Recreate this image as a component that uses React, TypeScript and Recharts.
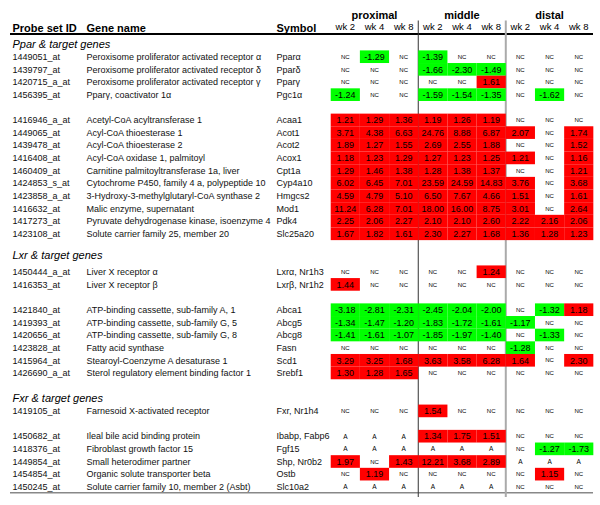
import { ScatterChart, Scatter, XAxis, YAxis, ReferenceLine } from "recharts";

const GROUPS = ["proximal", "middle", "distal"];
const WEEKS = ["wk 2", "wk 4", "wk 8"];
const HEADERS = ["Probe set ID", "Gene name", "Symbol"];

const SECTIONS = ["Ppar & target genes", "Lxr & target genes", "Fxr & target genes"];
const SECTION_SLOTS = [-1, 15.7, 27];

const PROBES = [
  "1449051_at", "1439797_at", "1420715_a_at", "1456395_at",
  "1416946_a_at", "1449065_at", "1439478_at", "1416408_at", "1460409_at",
  "1424853_s_at", "1423858_a_at", "1416632_at", "1417273_at", "1423108_at",
  "1450444_a_at", "1416353_at",
  "1421840_at", "1419393_at", "1420656_at", "1423828_at", "1415964_at", "1426690_a_at",
  "1419105_at",
  "1450682_at", "1418376_at", "1449854_at", "1454854_at", "1450245_at",
];

const GENES = [
  "Peroxisome proliferator activated receptor α",
  "Peroxisome proliferator activated receptor δ",
  "Peroxisome proliferator activated receptor γ",
  "Pparγ, coactivator 1α",
  "Acetyl-CoA acyltransferase 1",
  "Acyl-CoA thioesterase 1",
  "Acyl-CoA thioesterase 2",
  "Acyl-CoA oxidase 1, palmitoyl",
  "Carnitine palmitoyltransferase 1a, liver",
  "Cytochrome P450, family 4 a, polypeptide 10",
  "3-Hydroxy-3-methylglutaryl-CoA synthase 2",
  "Malic enzyme, supernatant",
  "Pyruvate dehydrogenase kinase, isoenzyme 4",
  "Solute carrier family 25, member 20",
  "Liver X receptor α",
  "Liver X receptor β",
  "ATP-binding cassette, sub-family A, 1",
  "ATP-binding cassette, sub-family G, 5",
  "ATP-binding cassette, sub-family G, 8",
  "Fatty acid synthase",
  "Stearoyl-Coenzyme A desaturase 1",
  "Sterol regulatory element binding factor 1",
  "Farnesoid X-activated receptor",
  "Ileal bile acid binding protein",
  "Fibroblast growth factor 15",
  "Small heterodimer partner",
  "Organic solute transporter beta",
  "Solute carrier family 10, member 2 (Asbt)",
];

const SYMBOLS = [
  "Pparα", "Pparδ", "Pparγ", "Pgc1α",
  "Acaa1", "Acot1", "Acot2", "Acox1", "Cpt1a", "Cyp4a10", "Hmgcs2", "Mod1", "Pdk4", "Slc25a20",
  "Lxrα, Nr1h3", "Lxrβ, Nr1h2",
  "Abca1", "Abcg5", "Abcg8", "Fasn", "Scd1", "Srebf1",
  "Fxr, Nr1h4",
  "Ibabp, Fabp6", "Fgf15", "Shp, Nr0b2", "Ostb", "Slc10a2",
];

// row index in the table grid (blank rows skipped)
const ROW_SLOTS = [0, 1, 2, 3, 5, 6, 7, 8, 9, 10, 11, 12, 13, 14, 17, 18, 20, 21, 22, 23, 24, 25, 28, 30, 31, 32, 33, 34];

// fold changes: proximal wk2/4/8, middle wk2/4/8, distal wk2/4/8
const VALUES = [
  ["NC", "-1.29", "NC", "-1.39", "NC", "NC", "NC", "NC", "NC"],
  ["NC", "NC", "NC", "-1.66", "-2.30", "-1.49", "NC", "NC", "NC"],
  ["NC", "NC", "NC", "NC", "NC", "1.61", "NC", "NC", "NC"],
  ["-1.24", "NC", "NC", "-1.59", "-1.54", "-1.35", "NC", "-1.62", "NC"],
  ["1.21", "1.29", "1.36", "1.19", "1.26", "1.19", "NC", "NC", "NC"],
  ["3.71", "4.38", "6.63", "24.76", "8.88", "6.87", "2.07", "NC", "1.74"],
  ["1.89", "1.27", "1.55", "2.69", "2.55", "1.88", "NC", "NC", "1.52"],
  ["1.18", "1.23", "1.29", "1.27", "1.23", "1.25", "1.21", "NC", "1.16"],
  ["1.29", "1.46", "1.38", "1.28", "1.38", "1.37", "NC", "NC", "1.21"],
  ["6.02", "6.45", "7.01", "23.59", "24.59", "14.83", "3.76", "NC", "3.68"],
  ["4.59", "4.79", "5.10", "6.50", "7.67", "4.66", "1.51", "NC", "1.61"],
  ["11.24", "6.28", "7.01", "18.00", "16.00", "8.75", "3.01", "NC", "2.64"],
  ["2.25", "2.06", "2.27", "2.10", "2.10", "2.60", "2.22", "2.16", "2.06"],
  ["1.67", "1.82", "1.61", "2.30", "2.27", "1.68", "1.36", "1.28", "1.23"],
  ["NC", "NC", "NC", "NC", "NC", "1.24", "NC", "NC", "NC"],
  ["1.44", "NC", "NC", "NC", "NC", "NC", "NC", "NC", "NC"],
  ["-3.18", "-2.81", "-2.31", "-2.45", "-2.04", "-2.00", "NC", "-1.32", "1.18"],
  ["-1.34", "-1.47", "-1.20", "-1.83", "-1.72", "-1.61", "-1.17", "NC", "NC"],
  ["-1.41", "-1.61", "-1.07", "-1.85", "-1.97", "-1.40", "NC", "-1.33", "NC"],
  ["NC", "NC", "NC", "NC", "NC", "NC", "-1.28", "NC", "NC"],
  ["3.29", "3.25", "1.68", "3.63", "3.58", "6.28", "1.64", "NC", "2.30"],
  ["1.30", "1.28", "1.65", "NC", "NC", "NC", "NC", "NC", "NC"],
  ["NC", "NC", "NC", "1.54", "NC", "NC", "NC", "NC", "NC"],
  ["A", "A", "A", "1.34", "1.75", "1.51", "NC", "NC", "NC"],
  ["A", "A", "A", "A", "A", "A", "NC", "-1.27", "-1.73"],
  ["1.97", "NC", "1.43", "12.21", "3.68", "2.89", "A", "A", "A"],
  ["NC", "1.19", "NC", "NC", "NC", "NC", "NC", "1.15", "NC"],
  ["A", "A", "A", "A", "A", "A", "NC", "NC", "NC"],
];

// ---- layout ----
const W = 600;
const H = 505;
const COL_W = 29.18;
const ROW_H = 12.65;
const X0 = 345.3; // pixel centre of first value column
const Y0 = 56.7; // pixel centre of first row
const X_DOMAIN = [-X0 / COL_W, (W - X0) / COL_W];
const Y_DOMAIN = [-Y0 / ROW_H, (H - Y0) / ROW_H];
const FONT = "'Liberation Sans', Arial, Helvetica, sans-serif";
const RED = "#ff0000";
const GREEN = "#00ff00";

const cellData = VALUES.flatMap((row, r) =>
  row.map((v, c) => ({ x: c, y: ROW_SLOTS[r], v }))
);
const labelData = PROBES.map((p, i) => ({
  x: -0.5,
  y: ROW_SLOTS[i],
  probe: p,
  gene: GENES[i],
  symbol: SYMBOLS[i],
}));
const sectionData = SECTIONS.map((s, i) => ({ x: -0.5, y: SECTION_SLOTS[i], name: s }));
const groupData = GROUPS.map((g, i) => ({ x: i * 3 + 1, y: -3.3, name: g }));
const weekData = GROUPS.flatMap((_, gi) =>
  WEEKS.map((w, wi) => ({ x: gi * 3 + wi, y: -2.35, name: w }))
);
const headerData = [{ x: -0.5, y: -2.26 }];

const Cell = (props: any) => {
  const { cx, cy, payload } = props;
  const v: string = payload.v;
  const isNum = v !== "NC" && v !== "A";
  const fill = isNum ? (v.startsWith("-") ? GREEN : RED) : "none";
  return (
    <g>
      {isNum && (
        <rect x={cx - COL_W / 2} y={cy - ROW_H / 2} width={COL_W} height={ROW_H} fill={fill} />
      )}
      <text
        x={cx}
        y={cy}
        dy="0.36em"
        textAnchor="middle"
        fontFamily={FONT}
        fontSize={isNum ? 9 : v === "A" ? 6.5 : 6}
        fill="#000"
      >
        {v}
      </text>
    </g>
  );
};

const RowLabel = (props: any) => {
  const { cy, payload } = props;
  const common = { fontFamily: FONT, fontSize: 9, fill: "#111", dy: "0.36em" };
  return (
    <g>
      <text x={12.5} y={cy} {...common}>{payload.probe}</text>
      <text x={86.5} y={cy} {...common}>{payload.gene}</text>
      <text x={276.5} y={cy} {...common}>{payload.symbol}</text>
    </g>
  );
};

const SectionLabel = (props: any) => {
  const { cy, payload } = props;
  return (
    <text x={12.5} y={cy} dy="0.36em" fontFamily={FONT} fontSize={11} fontStyle="italic" fill="#000">
      {payload.name}
    </text>
  );
};

const GroupLabel = (props: any) => {
  const { cx, cy, payload } = props;
  return (
    <text x={cx} y={cy} dy="0.36em" textAnchor="middle" fontFamily={FONT} fontSize={11} fontWeight="bold" fill="#000">
      {payload.name}
    </text>
  );
};

const WeekLabel = (props: any) => {
  const { cx, cy, payload } = props;
  return (
    <text x={cx} y={cy} dy="0.36em" textAnchor="middle" fontFamily={FONT} fontSize={9.5} fill="#000">
      {payload.name}
    </text>
  );
};

const ColumnHeaders = (props: any) => {
  const { cy } = props;
  const xs = [12.5, 86.5, 276.5];
  return (
    <g>
      {HEADERS.map((h, i) => (
        <text key={h} x={xs[i]} y={cy} dy="0.36em" fontFamily={FONT} fontSize={11} fontWeight="bold" fill="#000">
          {h}
        </text>
      ))}
    </g>
  );
};

const xAt = (px: number) => (px - X0) / COL_W;
const yAt = (py: number) => (py - Y0) / ROW_H;

export default function App() {
  return (
    <div style={{ position: "absolute", left: 0, top: 0, width: W, height: H, background: "#fff" }}>
      <ScatterChart width={W} height={H} margin={{ top: 0, right: 0, bottom: 0, left: 0 }}>
        <XAxis type="number" dataKey="x" domain={X_DOMAIN} hide allowDataOverflow />
        <YAxis type="number" dataKey="y" domain={Y_DOMAIN} reversed hide allowDataOverflow />
        <Scatter data={cellData} shape={Cell} isAnimationActive={false} />
        <Scatter data={labelData} shape={RowLabel} isAnimationActive={false} />
        <Scatter data={sectionData} shape={SectionLabel} isAnimationActive={false} />
        <Scatter data={groupData} shape={GroupLabel} isAnimationActive={false} />
        <Scatter data={weekData} shape={WeekLabel} isAnimationActive={false} />
        <Scatter data={headerData} shape={ColumnHeaders} isAnimationActive={false} />
        <ReferenceLine
          segment={[{ x: xAt(10), y: yAt(34) }, { x: xAt(593), y: yAt(34) }]}
          stroke="#000"
          strokeWidth={2}
          ifOverflow="visible"
        />
        <ReferenceLine
          segment={[{ x: xAt(10), y: yAt(492.7) }, { x: xAt(593), y: yAt(492.7) }]}
          stroke="#888"
          strokeWidth={1.5}
          ifOverflow="visible"
        />
        <ReferenceLine
          segment={[{ x: 2.5, y: yAt(20.5) }, { x: 2.5, y: yAt(497) }]}
          stroke="#333"
          strokeWidth={1}
          ifOverflow="visible"
        />
        <ReferenceLine
          segment={[{ x: 5.5, y: yAt(20.5) }, { x: 5.5, y: yAt(497) }]}
          stroke="#aaa"
          strokeWidth={2}
          ifOverflow="visible"
        />
      </ScatterChart>
    </div>
  );
}
